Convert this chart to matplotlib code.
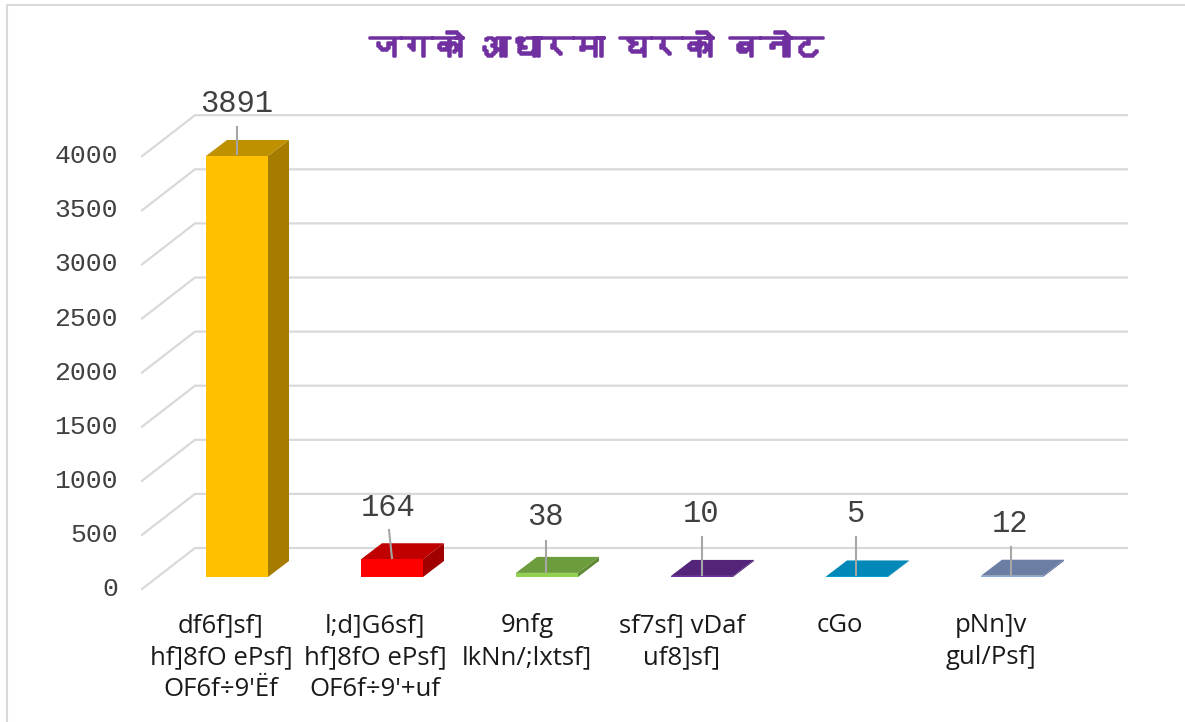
import matplotlib
matplotlib.use('Agg')
import matplotlib.pyplot as plt
import matplotlib.patheffects as pe
from matplotlib import font_manager as fm
from matplotlib.patches import Polygon

# which installed font has devanagari
deva = []
for f in fm.fontManager.ttflist:
    try:
        if 0x091C in fm.get_font(f.fname).get_charmap():
            deva.append(f.name)
    except Exception:
        pass

W, H = 1185, 722

title = 'जगको आधारमा घरको बनोट'
categories = ['df6f]sf]\nhf]8fO ePsf]\nOF6f÷9\'Ëf',
              'l;d]G6sf]\nhf]8fO ePsf]\nOF6f÷9\'+uf',
              '9nfg\nlkNn/;lxtsf]',
              'sf7sf] vDaf\nuf8]sf]',
              'cGo',
              'pNn]v\ngul/Psf]']
values = [3891, 164, 38, 10, 5, 12]
yticks = [0, 500, 1000, 1500, 2000, 2500, 3000, 3500, 4000]

front_colors = ['#FFC000', '#FF0000', '#92D050', '#7030A0', '#00A0D0', '#8FAADC']
top_colors = ['#BF9000', '#C00000', '#6D9C3C', '#54247A', '#0088B8', '#6B7FA5']
side_colors = ['#A67C00', '#A00000', '#5F8A34', '#4A1F6B', '#00789F', '#5E7096']

# layout, pixels
x0_px, y0_px = 237, 577
cat_px = 155
val_px = 0.1082
depth_x = 21 / cat_px
depth_y = 16 / val_px
bar_w = 62 / cat_px
grid_back = (548 - y0_px) / -val_px
grid_front = (589 - y0_px) / -val_px
grid_x0 = (142 - x0_px) / cat_px
grid_x1 = (195 - x0_px) / cat_px
grid_x2 = (1127 - x0_px) / cat_px
label_top = [(237, 127, 104), (389, 530, 508), (546, 541, 517), (702, 537, 514), (856, 537, 514), (1011, 547, 524)]
line_end = [154, 558, 572, 575, 575, 575]
label_x = [221, 375, 527, 682, 840, 991]

fig = plt.figure(figsize=(W / 100, H / 100), dpi=100)
ax = fig.add_axes([0, 0, 1, 1])
ax.set_xlim(-x0_px / cat_px, (W - x0_px) / cat_px)
ax.set_ylim((y0_px - H) / val_px, y0_px / val_px)
ax.axis('off')

def px(x, y):
    return (x - x0_px) / cat_px, (y0_px - y) / val_px

# outer frame
ax.plot(*zip(px(7, H), px(7, 5), px(W, 5)), color='#D9D9D9', lw=1.5, solid_joinstyle='miter')

for v in yticks:
    ax.plot([grid_x0, grid_x1, grid_x2], [v + grid_front, v + grid_back, v + grid_back],
            color='#D9D9D9', lw=1.6, solid_joinstyle='miter', zorder=1)
    ax.text(px(118, 0)[0], v + px(0, 589)[1], str(v), ha='right', va='center', family='Liberation Mono',
            fontsize=19, color='#404040', zorder=5)

for i, v in enumerate(values):
    l, r = i - bar_w / 2, i + bar_w / 2
    ax.add_patch(Polygon([(r, 0), (r + depth_x, depth_y), (r + depth_x, v + depth_y), (r, v)], fc=side_colors[i], zorder=3))
    ax.add_patch(Polygon([(l, v), (r, v), (r + depth_x, v + depth_y), (l + depth_x, v + depth_y)], fc=top_colors[i], zorder=3))
    ax.bar(i, v, bar_w, color=front_colors[i], zorder=4)
    lx, ly, ty = label_top[i]
    ax.plot(*zip(px(lx, ly), px(lx + (3 if i == 1 else 0), line_end[i])), color='#A6A6A6', lw=1.5, zorder=6)
    ax.text(*px(lx - (1 if i else 0), ty), str(v), ha='center', va='center', family='Liberation Mono', fontsize=22,
            color='#404040', zorder=7)

for i, c in enumerate(categories):
    ax.text(*px(label_x[i], 613), c, ha='center', va='top', family='Open Sans', fontsize=18.5,
            color='#1A1A1A', linespacing=1.36)

ax.text(*px(596, 48), title, ha='center', va='center', family=(deva[0] if deva else 'Noto Sans'),
        fontsize=22.5, color='#7030A0',
        path_effects=[pe.withStroke(linewidth=1.8, foreground='#7030A0')])

fig.savefig('out.png', dpi=100)
